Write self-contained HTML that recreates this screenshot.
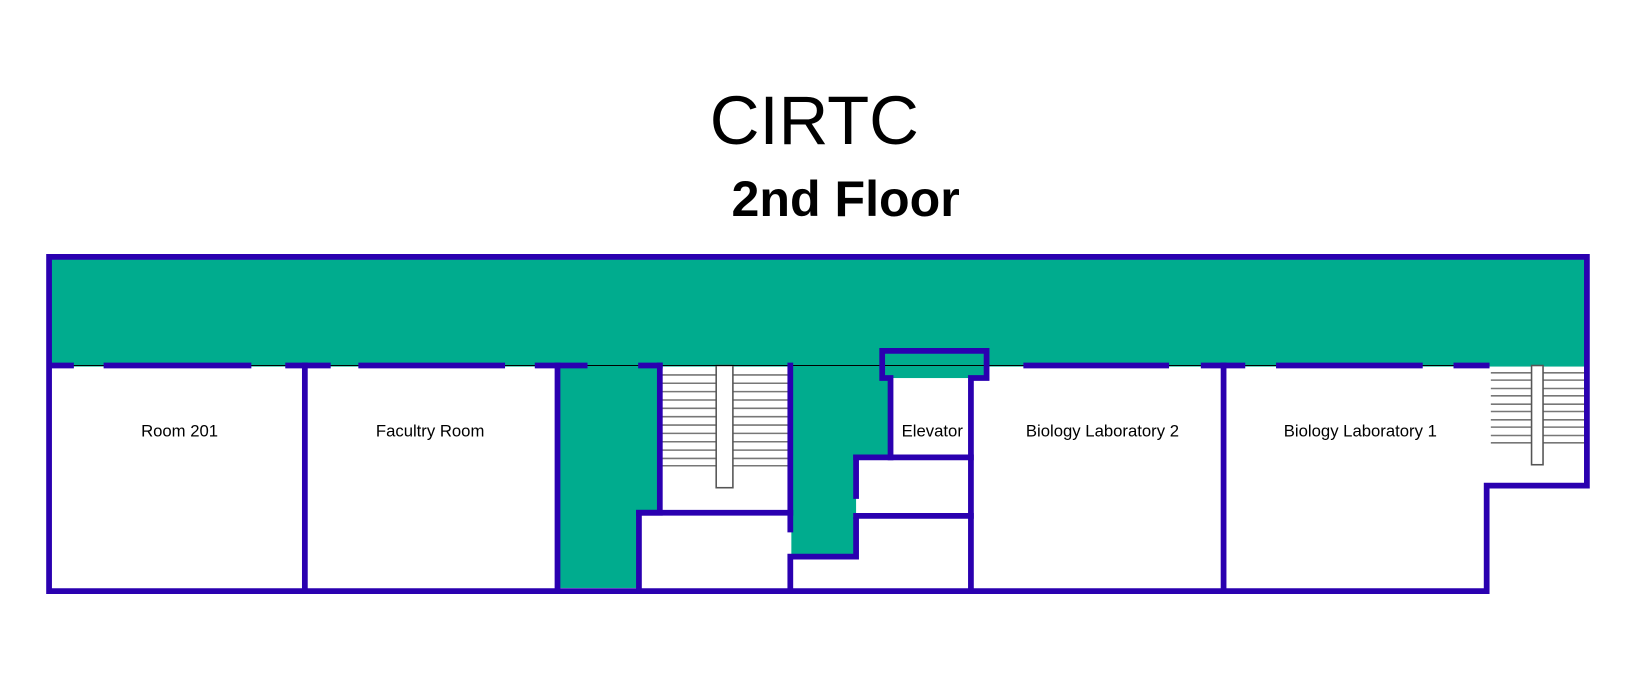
<!DOCTYPE html>
<html><head><meta charset="utf-8"><style>
html,body{margin:0;padding:0;background:#fff;}
svg{display:block}
text{font-family:"Liberation Sans",sans-serif;fill:#000}
</style></head><body>
<svg width="1637" height="683" viewBox="0 0 1568 654" preserveAspectRatio="none">
<text x="780" y="138" font-size="66" text-anchor="middle">CIRTC</text>
<text x="810" y="207" font-size="48" font-weight="bold" text-anchor="middle">2nd Floor</text>
<g fill="#00ac8e">
<rect x="48" y="248" width="1472" height="103"/>
<rect x="534" y="349" width="98" height="142"/>
<rect x="534" y="349" width="78" height="214"/>
<rect x="758" y="349" width="95" height="90"/>
<rect x="758" y="437" width="62" height="95"/>
<rect x="845" y="336" width="100" height="26"/>
</g>
<g stroke="#777" stroke-width="1.5" fill="none">
<line x1="634" y1="359" x2="756" y2="359"/><line x1="634" y1="367" x2="756" y2="367"/><line x1="634" y1="375" x2="756" y2="375"/><line x1="634" y1="383" x2="756" y2="383"/><line x1="634" y1="391" x2="756" y2="391"/><line x1="634" y1="399" x2="756" y2="399"/><line x1="634" y1="407" x2="756" y2="407"/><line x1="634" y1="415" x2="756" y2="415"/><line x1="634" y1="423" x2="756" y2="423"/><line x1="634" y1="431" x2="756" y2="431"/><line x1="634" y1="439" x2="756" y2="439"/><line x1="634" y1="446" x2="756" y2="446"/>
<rect x="686" y="350" width="16" height="117" fill="#fff" stroke="#555"/>
</g>
<g stroke="#777" stroke-width="1.5" fill="none">
<line x1="1428" y1="357" x2="1518" y2="357"/><line x1="1428" y1="364" x2="1518" y2="364"/><line x1="1428" y1="372" x2="1518" y2="372"/><line x1="1428" y1="379" x2="1518" y2="379"/><line x1="1428" y1="387" x2="1518" y2="387"/><line x1="1428" y1="394" x2="1518" y2="394"/><line x1="1428" y1="402" x2="1518" y2="402"/><line x1="1428" y1="409" x2="1518" y2="409"/><line x1="1428" y1="417" x2="1518" y2="417"/><line x1="1428" y1="424" x2="1518" y2="424"/>
<rect x="1467" y="350" width="11" height="95" fill="#fff" stroke="#555"/>
</g>
<line x1="48" y1="350" x2="1424" y2="350" stroke="#000" stroke-width="1"/>
<g stroke="#2a00b0" stroke-width="5.5" fill="none" stroke-linecap="square">
<polyline points="47,565 47,246 1520,246 1520,465 1424,465 1424,566 47,566"/>
<line x1="50" y1="350" x2="68" y2="350"/><line x1="102" y1="350" x2="238" y2="350"/><line x1="276" y1="350" x2="314" y2="350"/><line x1="346" y1="350" x2="481" y2="350"/><line x1="515" y1="350" x2="560" y2="350"/><line x1="614" y1="350" x2="632" y2="350"/>
<line x1="983" y1="350" x2="1117" y2="350"/><line x1="1153" y1="350" x2="1190" y2="350"/><line x1="1225" y1="350" x2="1360" y2="350"/><line x1="1395" y1="350" x2="1424" y2="350"/>
<line x1="292" y1="350" x2="292" y2="563"/><line x1="534" y1="350" x2="534" y2="563"/>
<polyline points="612,563 612,491 632,491 632,350"/><line x1="612" y1="491" x2="757" y2="491"/>
<line x1="757" y1="350" x2="757" y2="507"/><polyline points="757,563 757,533 820,533 820,498"/><line x1="820" y1="475" x2="820" y2="438"/>
<line x1="820" y1="438" x2="930" y2="438"/><line x1="820" y1="494" x2="930" y2="494"/>
<polyline points="853,438 853,362 845,362 845,336 945,336 945,362 930,362 930,563"/>
<line x1="1172" y1="350" x2="1172" y2="563"/>
</g>
<g font-size="16" text-anchor="middle">
<text x="172" y="418">Room 201</text>
<text x="412" y="418">Facultry Room</text>
<text x="893" y="418">Elevator</text>
<text x="1056" y="418">Biology Laboratory 2</text>
<text x="1303" y="418">Biology Laboratory 1</text>
</g>
</svg>
</body></html>
